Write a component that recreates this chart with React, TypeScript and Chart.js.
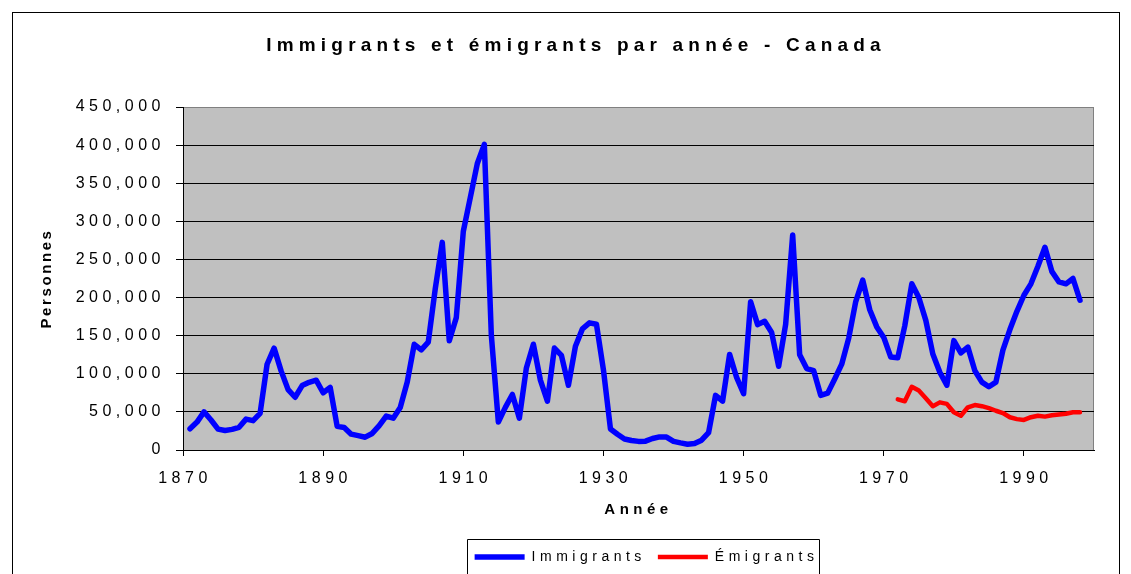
import React, { useEffect, useRef } from "react";
import { Chart, registerables } from "chart.js";

Chart.register(...registerables);

// ---- Data ----
const years: number[] = [];
for (let y = 1870; y <= 2000; y++) years.push(y);

const tickYears = [1870, 1890, 1910, 1930, 1950, 1970, 1990];

const immigrantsFirstYear = 1871;
const immigrants = [
  27800, 36600, 50000, 39400, 27400, 25600, 27100, 29800, 40500, 38500,
  48000, 112500, 133600, 103800, 79200, 69200, 84500, 88800, 91600, 75100,
  82200, 31000, 29600, 20800, 18800, 16800, 21700, 31900, 44500, 41700,
  55700, 89100, 138700, 131300, 141500, 211700, 272400, 143300, 173700, 286800,
  331300, 375800, 400900, 150500, 36700, 55900, 72900, 41800, 107700, 138800,
  91700, 64200, 133700, 124200, 84900, 136000, 158900, 166800, 165000, 104800,
  27500, 20600, 14400, 12500, 11300, 11600, 15100, 17200, 17000, 11300,
  9300, 7600, 8500, 12800, 22700, 71700, 64100, 125400, 95200, 73900,
  194400, 164500, 168900, 154200, 109900, 164900, 282200, 124900, 106900, 104100,
  71700, 74600, 93200, 112600, 146800, 194700, 222900, 184000, 161500, 147700,
  121900, 121000, 163000, 218000, 200000, 170000, 126000, 102000, 85000, 143500,
  127500, 135000, 104000, 89000, 83000, 89000, 131000, 158000, 182000, 203000,
  218000, 241000, 266000, 234000, 220500, 218000, 225000, 196500,
];

const emigrantsFirstYear = 1972;
const emigrants = [
  66500, 64000, 83000, 78000, 68000, 57500, 62500, 60500, 49500, 45000,
  56000, 59000, 57500, 55000, 51500, 48500, 43000, 40500, 39500, 43000,
  45000, 43800, 45500, 46500, 47500, 49500, 49500,
];

const TITLE = "Immigrants et émigrants par année - Canada";
const X_TITLE = "Année";
const Y_TITLE = "Personnes";
const SERIES_NAMES = ["Immigrants", "Émigrants"];
const SERIES_COLORS = ["#0000FF", "#FF0000"];

// ---- Style constants ----
const FONT = "'Liberation Sans', Arial, sans-serif";
const BASE_SPACING = "4.5px";
const TITLE_SPACING = "5.2px";
const Y_TITLE_SPACING = "2.6px";
const TITLE_CENTER_X = 576;
const LEGEND_DX = 8;

function align(first: number, values: number[]) {
  return years.map((y) => {
    const i = y - first;
    return i >= 0 && i < values.length ? values[i] : null;
  });
}

function wrapDraw(obj: any, key: string, ctx: any, spacing: string | null, dx: () => number) {
  if (!obj || obj["__w_" + key]) return;
  const orig = obj[key].bind(obj);
  obj[key] = (...args: any[]) => {
    ctx.save();
    if (spacing) ctx.letterSpacing = spacing;
    ctx.translate(dx(), 0);
    orig(...args);
    ctx.restore();
  };
  obj["__w_" + key] = true;
}

const stylePlugin = {
  id: "excelStyle",
  beforeLayout(chart: any) {
    chart.ctx.letterSpacing = BASE_SPACING;
  },
  afterLayout(chart: any) {
    const c = chart.ctx;
    const tb = chart.titleBlock;
    wrapDraw(tb, "draw", c, TITLE_SPACING, () => TITLE_CENTER_X - (tb.left + tb.right) / 2);
    wrapDraw(chart.legend, "draw", c, null, () => LEGEND_DX);
    wrapDraw(chart.scales.y, "drawTitle", c, Y_TITLE_SPACING, () => 0);
  },
  beforeDraw(chart: any) {
    const ctx = chart.ctx;
    ctx.letterSpacing = BASE_SPACING;
    const { left, top, right, bottom } = chart.chartArea;
    ctx.save();
    ctx.fillStyle = "#C0C0C0";
    ctx.fillRect(left, top, right - left, bottom - top);
    ctx.strokeStyle = "#808080";
    ctx.lineWidth = 1;
    ctx.beginPath();
    ctx.moveTo(left, top + 0.5);
    ctx.lineTo(right - 0.5, top + 0.5);
    ctx.lineTo(right - 0.5, bottom);
    ctx.stroke();
    ctx.restore();
  },
  afterDraw(chart: any) {
    const lg = chart.legend;
    const hb = lg && lg.legendHitBoxes;
    if (!hb || !hb.length) return;
    const ctx = chart.ctx;
    const last = hb[hb.length - 1];
    const l = Math.round(hb[0].left + LEGEND_DX - 8) + 0.5;
    const r = Math.round(last.left + last.width + LEGEND_DX + 1) + 0.5;
    const t = Math.round(lg.top + 1) + 0.5;
    ctx.save();
    ctx.strokeStyle = "#000";
    ctx.lineWidth = 1;
    ctx.beginPath();
    ctx.moveTo(l, chart.height + 5);
    ctx.lineTo(l, t);
    ctx.lineTo(r, t);
    ctx.lineTo(r, chart.height + 5);
    ctx.stroke();
    ctx.restore();
  },
};

export default function App() {
  const canvasRef = useRef<HTMLCanvasElement | null>(null);

  useEffect(() => {
    const canvas = canvasRef.current;
    if (!canvas) return;
    const chart = new Chart(canvas, {
      type: "line",
      data: {
        labels: years.map(String),
        datasets: [
          {
            label: SERIES_NAMES[0],
            data: align(immigrantsFirstYear, immigrants),
            borderColor: SERIES_COLORS[0],
            backgroundColor: SERIES_COLORS[0],
            borderWidth: 5.5,
            pointRadius: 0,
            pointHoverRadius: 0,
            borderCapStyle: "round",
            borderJoinStyle: "round",
            tension: 0,
            fill: false,
          },
          {
            label: SERIES_NAMES[1],
            data: align(emigrantsFirstYear, emigrants),
            borderColor: SERIES_COLORS[1],
            backgroundColor: SERIES_COLORS[1],
            borderWidth: 4.5,
            pointRadius: 0,
            pointHoverRadius: 0,
            borderCapStyle: "round",
            borderJoinStyle: "round",
            tension: 0,
            fill: false,
          },
        ],
      } as any,
      options: {
        animation: false,
        responsive: false,
        maintainAspectRatio: false,
        devicePixelRatio: 1,
        events: [],
        layout: { padding: { left: 0, right: 37, top: 0, bottom: 0 } },
        plugins: {
          title: {
            display: true,
            text: TITLE,
            color: "#000",
            font: { family: FONT, size: 19, weight: "bold" },
            padding: { top: 34, bottom: 50.2 },
          },
          legend: {
            display: true,
            position: "bottom",
            fullSize: false,
            labels: {
              usePointStyle: true,
              pointStyle: "line",
              pointStyleWidth: 50,
              padding: 12,
              color: "#000",
              font: { family: FONT, size: 14 },
            },
          },
          tooltip: { enabled: false },
        },
        scales: {
          x: {
            type: "category",
            offset: false,
            grid: {
              display: true,
              drawOnChartArea: false,
              drawTicks: true,
              tickLength: 6,
              offset: false,
              color: (ctx: any) =>
                tickYears.includes(years[ctx.index]) ? "#000" : "rgba(0,0,0,0)",
            },
            border: { display: true, color: "#000", width: 1 },
            ticks: {
              autoSkip: false,
              maxRotation: 0,
              minRotation: 0,
              padding: 13,
              labelOffset: 2,
              color: "#000",
              font: { family: FONT, size: 16 },
              callback: (_v: any, i: number) =>
                tickYears.includes(years[i]) ? String(years[i]) : "",
            },
            title: {
              display: true,
              text: X_TITLE,
              color: "#000",
              font: { family: FONT, size: 15, weight: "bold" },
              padding: { top: 0, bottom: 19 },
            },
            afterFit: (s: any) => {
              s.height = 88;
            },
          },
          y: {
            min: 0,
            max: 450000,
            grid: {
              display: true,
              drawOnChartArea: true,
              drawTicks: true,
              tickLength: 7,
              color: (ctx: any) =>
                ctx.tick && ctx.tick.value === 450000 ? "#808080" : "#000",
              tickColor: "#000",
              lineWidth: 1,
            },
            border: { display: true, color: "#000", width: 1 },
            ticks: {
              stepSize: 50000,
              padding: 11,
              color: "#000",
              font: { family: FONT, size: 16 },
              callback: (v: any) => Number(v).toLocaleString("en-US"),
            },
            title: {
              display: true,
              text: Y_TITLE,
              color: "#000",
              font: { family: FONT, size: 15, weight: "bold" },
              padding: { top: 38, bottom: 0 },
            },
            afterFit: (s: any) => {
              s.width = 183;
            },
          },
        },
      } as any,
      plugins: [stylePlugin as any],
    });
    return () => chart.destroy();
  }, []);

  return (
    <div
      style={{
        position: "fixed",
        left: 0,
        top: 0,
        width: 1131,
        height: 574,
        overflow: "hidden",
        background: "#fff",
      }}
    >
      <canvas
        ref={canvasRef}
        width={1131}
        height={574}
        style={{ position: "absolute", left: 0, top: 0, width: 1131, height: 574, display: "block" }}
      />
      <div
        style={{
          position: "absolute",
          left: 12,
          top: 12,
          width: 1108,
          height: 600,
          boxSizing: "border-box",
          border: "1px solid #000",
          pointerEvents: "none",
        }}
      />
    </div>
  );
}
